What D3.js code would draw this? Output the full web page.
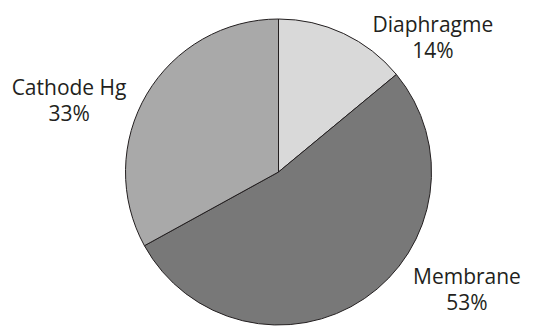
<!DOCTYPE html>
<html>
<head>
<meta charset="utf-8">
<script src="https://cdn.jsdelivr.net/npm/d3@7"></script>
<style>
  body { margin: 0; background: #fff; }
  svg { display: block; }
</style>
</head>
<body>
<div id="wrapper"></div>
<script>
// data
const categories = ['Diaphragme', 'Membrane', 'Cathode Hg'];
const shares = [14, 53, 33];
const percentLabels = ['14%', '53%', '33%'];
const sliceColors = ['#d9d9d9', '#787878', '#a9a9a9'];

function drawChart() {
    const dataset = categories.map((c, i) => ({ name: c, value: shares[i], label: percentLabels[i] }));

    const dimensions = { width: 534, height: 326 };
    const center = { x: 278.5, y: 172 };
    const radius = 153;

    const svg = d3.select('#wrapper')
        .append('svg')
        .attr('width', dimensions.width)
        .attr('height', dimensions.height);

    const bounds = svg.append('g')
        .attr('transform', `translate(${center.x},${center.y})`);

    const pie = d3.pie()
        .value(d => d.value)
        .sort(null);

    const arc = d3.arc()
        .innerRadius(0)
        .outerRadius(radius);

    const arcs = pie(dataset);

    bounds.selectAll('path')
        .data(arcs)
        .join('path')
        .attr('d', arc)
        .attr('fill', (d, i) => sliceColors[i])
        .attr('stroke', '#231f20')
        .attr('stroke-width', 1);

    // label placement: angle (deg, clockwise from top) and distance from center
    const labelPlacement = [[50.5, 200], [123.5, 226], [287, 219]];

    const labels = bounds.selectAll('text.label')
        .data(arcs)
        .join('text')
        .attr('class', 'label')
        .attr('transform', (d, i) => {
            const a = labelPlacement[i][0] * Math.PI / 180;
            const r = labelPlacement[i][1];
            return `translate(${r * Math.sin(a)},${-r * Math.cos(a)})`;
        })
        .attr('text-anchor', 'middle')
        .attr('fill', '#231f20')
        .style('font-family', '"Open Sans", "Noto Sans", sans-serif')
        .style('font-size', '21px');

    labels.append('tspan')
        .attr('x', 0)
        .attr('y', -13)
        .text(d => d.data.name);
    labels.append('tspan')
        .attr('x', 0)
        .attr('y', 13)
        .text(d => d.data.label);
}

drawChart();
</script>
</body>
</html>
